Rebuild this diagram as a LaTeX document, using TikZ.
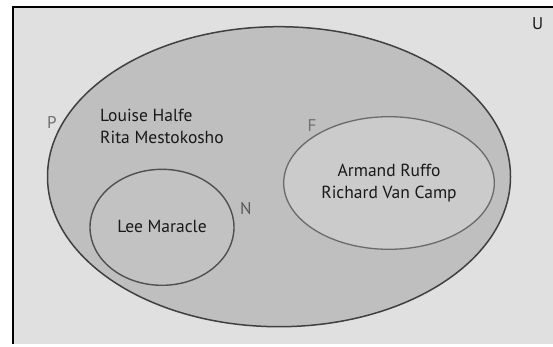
\documentclass[tikz,border=0pt]{standalone}
\usepackage{fontspec}
\setmainfont{PT Sans}
\usetikzlibrary{shapes.geometric}
\definecolor{ubg}{HTML}{E0E0E0}
\definecolor{pfill}{HTML}{BFBFBF}
\definecolor{nfill}{HTML}{C2C2C2}
\definecolor{ffill}{HTML}{CBCBCB}
\definecolor{pedge}{HTML}{404040}
\definecolor{nedge}{HTML}{505050}
\definecolor{fedge}{HTML}{6A6A6A}
\definecolor{lblgrey}{HTML}{707070}
\tikzset{
  setshape/.style={ellipse, draw, inner sep=0pt, outer sep=0pt},
  names/.style={font=\fontsize{17.5}{22}\selectfont, text=black!90, inner sep=0pt},
  setlabel/.style={font=\fontsize{17}{20}\selectfont, inner sep=0pt}
}
\begin{document}
\begin{tikzpicture}[x={(1pt,0)}, y={(0,-1pt)}]
\useasboundingbox (0,0) rectangle (553,346);
\fill[white] (0,0) rectangle (553,346);
\fill[ubg] (13,7) rectangle (553,344);
\draw[black, line width=2pt] (13,344) -- (13,7) -- (553,7);
\node[setshape, fill=pfill, draw=pedge, line width=1.5pt, minimum width=463pt, minimum height=300pt] (P) at (279,176.7) {};
\node[setshape, fill=nfill, draw=nedge, line width=1.4pt, minimum width=144pt, minimum height=116pt] (N) at (162,227.3) {};
\node[setshape, fill=ffill, draw=fedge, line width=1.3pt, minimum width=210.6pt, minimum height=132.6pt] (F) at (389,183) {};
\node[names, align=left, anchor=west] (pnames) at (100,126) {Louise Halfe\\Rita Mestokosho};
\node[names, align=center] (fnames) at (389,183) {Armand Ruffo\\Richard Van Camp};
\node[names] (nnames) at (162,226.7) {Lee Maracle};
\node[setlabel, text=lblgrey] (Plbl) at (51.8,122.7) {P};
\node[setlabel, text=lblgrey] (Flbl) at (312,125.7) {F};
\node[setlabel, text=black!65] (Nlbl) at (245.8,209) {N};
\node[setlabel, text=black!90] (Ulbl) at (537.7,23.3) {U};
\end{tikzpicture}
\end{document}
